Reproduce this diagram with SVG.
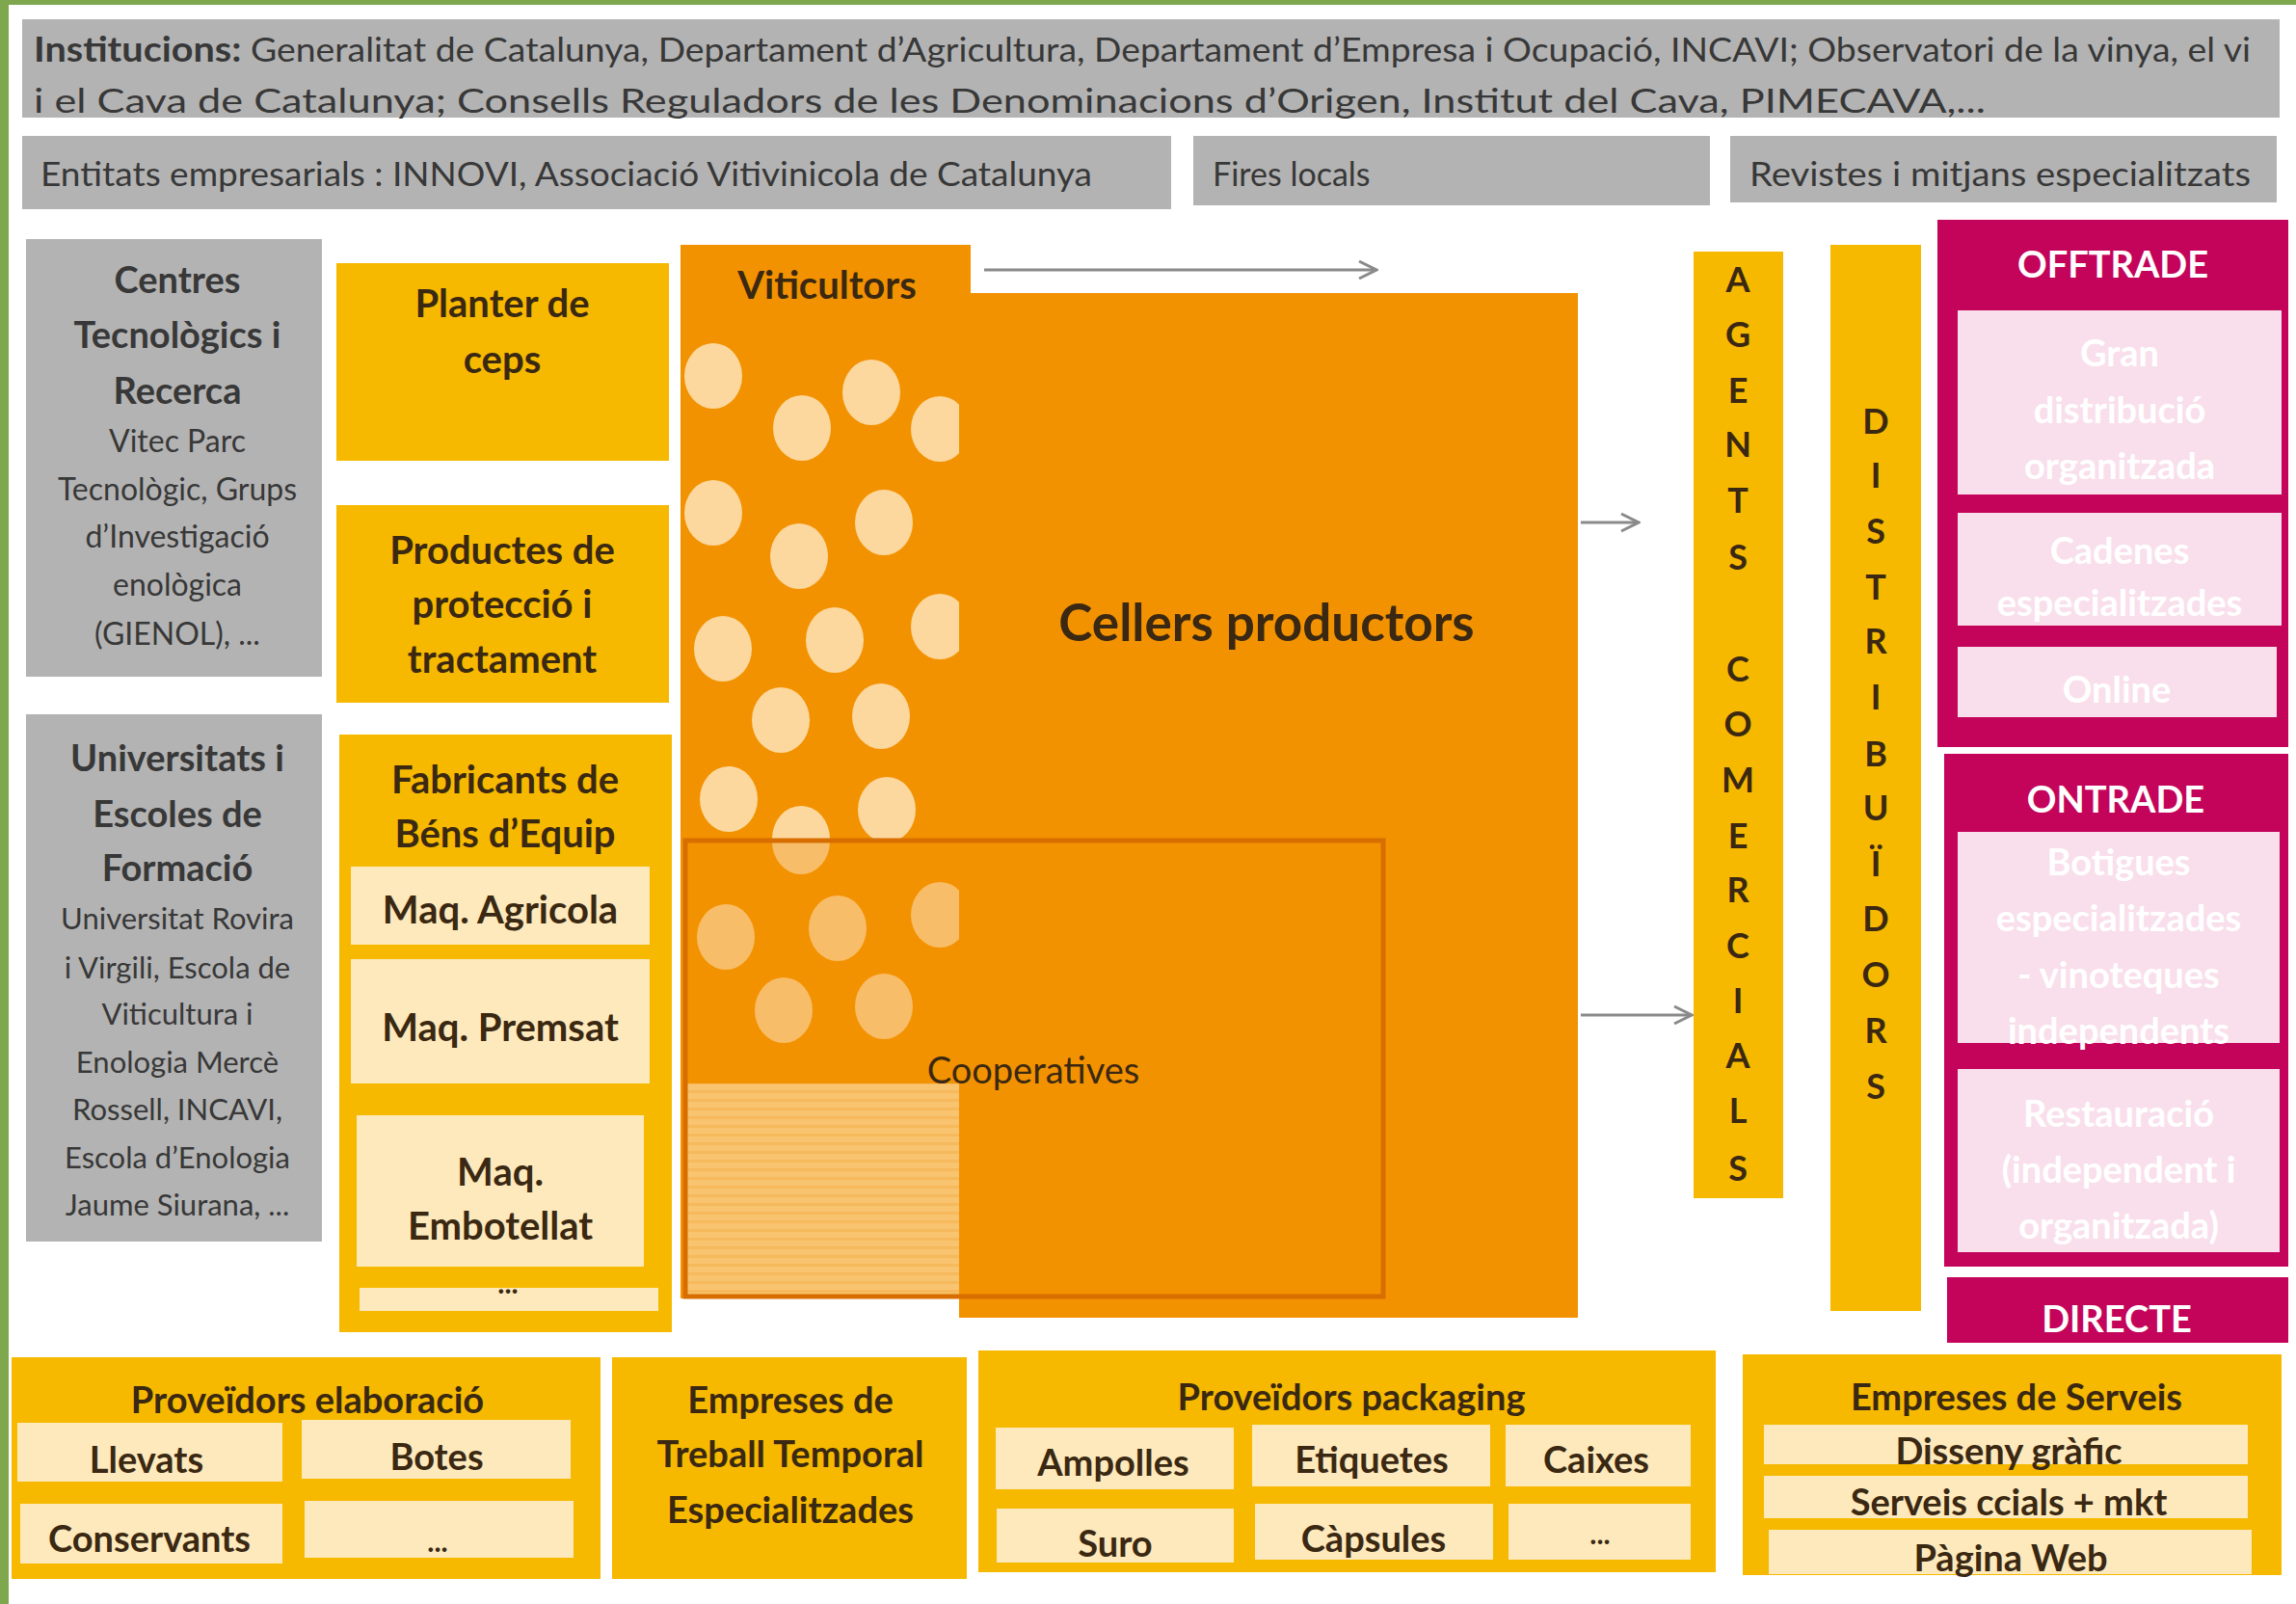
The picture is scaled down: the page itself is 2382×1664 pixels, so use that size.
<svg xmlns="http://www.w3.org/2000/svg" width="2382" height="1664" viewBox="0 0 2382 1664">
<style>
text{font-family:Lato,"Liberation Sans",sans-serif;}
.grey{fill:#b3b3b3;}
.yel{fill:#f6b900;}
.pale{fill:#fde9bb;}
.crim{fill:#c4045a;}
.pink{fill:#f9dfeb;}
.gt{fill:#383838;}
.dt{fill:#3a2812;}
.wt{fill:#ffffff;}
.b{font-weight:bold;}
.c{text-anchor:middle;dominant-baseline:central;}
.l{dominant-baseline:central;}
.conn{stroke:#8a8a8a;stroke-width:3;fill:none;marker-end:url(#arr);}
</style>
<defs>
<marker id="arr" markerUnits="userSpaceOnUse" markerWidth="26" markerHeight="26" viewBox="0 0 26 26" refX="24" refY="13" orient="auto">
<path d="M6,4 L24,13 L6,22" stroke="#8a8a8a" stroke-width="3" fill="none"/>
</marker>
<pattern id="hatch" patternUnits="userSpaceOnUse" width="10" height="9">
<rect width="10" height="9" fill="#f9c46f"/>
<rect y="6" width="10" height="3" fill="#f6b95c"/>
</pattern>
<clipPath id="colclip"><rect x="706" y="254" width="289" height="1093"/></clipPath>
</defs>
<rect width="2382" height="1664" fill="#ffffff"/>
<rect x="0" y="0" width="2382" height="5" fill="#7ea74e"/>
<rect x="0" y="0" width="9" height="1664" fill="#7ea74e"/>

<g id="institucions">
<rect class="grey" x="23" y="20" width="2342" height="102"/>
<text class="gt l" x="35" y="50" font-size="34" textLength="2300" lengthAdjust="spacingAndGlyphs"><tspan class="b" font-size="36">Institucions:</tspan> Generalitat de Catalunya, Departament d’Agricultura, Departament d’Empresa i Ocupació, INCAVI; Observatori de la vinya, el vi</text>
<text class="gt l" x="35" y="103" font-size="34" textLength="2025" lengthAdjust="spacingAndGlyphs">i el Cava de Catalunya;  Consells Reguladors de les Denominacions d’Origen, Institut del Cava, PIMECAVA,...</text>
</g>

<g id="entitats">
<rect class="grey" x="23" y="141" width="1192" height="76"/>
<text class="gt l" x="42" y="179" font-size="34" textLength="1091" lengthAdjust="spacingAndGlyphs">Entitats empresarials : INNOVI, Associació Vitivinicola de Catalunya</text>
</g>
<g id="fires">
<rect class="grey" x="1238" y="141" width="536" height="72"/>
<text class="gt l" x="1258" y="179" font-size="34">Fires locals</text>
</g>
<g id="revistes">
<rect class="grey" x="1795" y="141" width="567" height="69"/>
<text class="gt l" x="1815" y="179" font-size="34" textLength="520" lengthAdjust="spacingAndGlyphs">Revistes i mitjans especialitzats</text>
</g>

<g id="centres">
<rect class="grey" x="27" y="248" width="307" height="454"/>
<text class="gt c b" font-size="38" x="184" y="289">Centres</text>
<text class="gt c b" font-size="38" x="184" y="346">Tecnològics i</text>
<text class="gt c b" font-size="38" x="184" y="404">Recerca</text>
<text class="gt c" font-size="32" x="184" y="456">Vitec Parc</text>
<text class="gt c" font-size="32" x="184" y="506">Tecnològic, Grups</text>
<text class="gt c" font-size="32" x="184" y="555">d’Investigació</text>
<text class="gt c" font-size="32" x="184" y="605">enològica</text>
<text class="gt c" font-size="32" x="184" y="656">(GIENOL), ...</text>
</g>

<g id="universitats">
<rect class="grey" x="27" y="741" width="307" height="547"/>
<text class="gt c b" font-size="38" x="184" y="785">Universitats i</text>
<text class="gt c b" font-size="38" x="184" y="843">Escoles de</text>
<text class="gt c b" font-size="38" x="184" y="899">Formació</text>
<text class="gt c" font-size="31" x="184" y="952">Universitat Rovira</text>
<text class="gt c" font-size="31" x="184" y="1003">i Virgili, Escola de</text>
<text class="gt c" font-size="31" x="184" y="1051">Viticultura i</text>
<text class="gt c" font-size="31" x="184" y="1101">Enologia Mercè</text>
<text class="gt c" font-size="31" x="184" y="1150">Rossell, INCAVI,</text>
<text class="gt c" font-size="31" x="184" y="1200">Escola d’Enologia</text>
<text class="gt c" font-size="31" x="184" y="1249">Jaume Siurana, ...</text>
</g>

<g id="planter">
<rect class="yel" x="349" y="273" width="345" height="205"/>
<text class="dt c b" font-size="40" x="521" y="314">Planter de</text>
<text class="dt c b" font-size="40" x="521" y="372">ceps</text>
</g>

<g id="productes">
<rect class="yel" x="349" y="524" width="345" height="205"/>
<text class="dt c b" font-size="40" x="521" y="570">Productes de</text>
<text class="dt c b" font-size="40" x="521" y="626">protecció i</text>
<text class="dt c b" font-size="40" x="521" y="683">tractament</text>
</g>

<g id="fabricants">
<rect class="yel" x="352" y="762" width="345" height="620"/>
<text class="dt c b" font-size="40" x="524" y="808">Fabricants de</text>
<text class="dt c b" font-size="40" x="524" y="864">Béns d’Equip</text>
<rect class="pale" x="364" y="899" width="310" height="81"/>
<text class="dt c b" font-size="40" x="519" y="943">Maq. Agricola</text>
<rect class="pale" x="364" y="995" width="310" height="129"/>
<text class="dt c b" font-size="40" x="519" y="1065">Maq. Premsat</text>
<rect class="pale" x="370" y="1157" width="298" height="157"/>
<text class="dt c b" font-size="40" x="519" y="1215">Maq.</text>
<text class="dt c b" font-size="40" x="519" y="1271">Embotellat</text>
<rect class="pale" x="373" y="1336" width="310" height="24"/>
<text class="dt c b" font-size="30" x="527" y="1330">...</text>
</g>

<g id="cellers">
<polygon fill="#f39200" points="706,254 1007,254 1007,304 1637,304 1637,1367 995,1367 995,1347 706,1347"/>
<rect fill="url(#hatch)" x="709" y="1124" width="286" height="223"/>
<g clip-path="url(#colclip)" fill="#fcd89f">
<ellipse cx="740" cy="390" rx="30" ry="34"/>
<ellipse cx="832" cy="444" rx="30" ry="34"/>
<ellipse cx="904" cy="407" rx="30" ry="34"/>
<ellipse cx="975" cy="445" rx="30" ry="34"/>
<ellipse cx="740" cy="532" rx="30" ry="34"/>
<ellipse cx="829" cy="577" rx="30" ry="34"/>
<ellipse cx="917" cy="542" rx="30" ry="34"/>
<ellipse cx="975" cy="650" rx="30" ry="34"/>
<ellipse cx="750" cy="673" rx="30" ry="34"/>
<ellipse cx="866" cy="664" rx="30" ry="34"/>
<ellipse cx="810" cy="747" rx="30" ry="34"/>
<ellipse cx="914" cy="743" rx="30" ry="34"/>
<ellipse cx="756" cy="829" rx="30" ry="34"/>
<ellipse cx="920" cy="840" rx="30" ry="34"/>
</g>
<g clip-path="url(#colclip)" fill="#f8bd68">
<ellipse cx="831" cy="873" rx="30" ry="34"/>
<ellipse cx="753" cy="972" rx="30" ry="34"/>
<ellipse cx="869" cy="963" rx="30" ry="34"/>
<ellipse cx="975" cy="949" rx="30" ry="34"/>
<ellipse cx="813" cy="1048" rx="30" ry="34"/>
<ellipse cx="917" cy="1044" rx="30" ry="34"/>
</g>
<path d="M801,870 A30,34 0 0 1 861,870 Z" fill="#fcd89f"/>
<text class="dt c b" font-size="40" x="858" y="295">Viticultors</text>
<text class="dt c b" font-size="53" x="1314" y="644">Cellers productors</text>
</g>

<g id="cooperatives">
<rect x="711" y="872" width="724" height="473" fill="none" stroke="#d86e00" stroke-width="5"/>
<text class="dt c" font-size="38" x="1072" y="1109">Cooperatives</text>
</g>

<g id="agents">
<rect class="yel" x="1757" y="261" width="93" height="982"/>
<g class="dt c b" font-size="36">
<text x="1803" y="289">A</text>
<text x="1803" y="346">G</text>
<text x="1803" y="404">E</text>
<text x="1803" y="460">N</text>
<text x="1803" y="518">T</text>
<text x="1803" y="577">S</text>
<text x="1803" y="693">C</text>
<text x="1803" y="750">O</text>
<text x="1803" y="808">M</text>
<text x="1803" y="866">E</text>
<text x="1803" y="922">R</text>
<text x="1803" y="980">C</text>
<text x="1803" y="1037">I</text>
<text x="1803" y="1094">A</text>
<text x="1803" y="1151">L</text>
<text x="1803" y="1211">S</text>
</g>
</g>

<g id="distribuidors">
<rect class="yel" x="1899" y="254" width="94" height="1106"/>
<g class="dt c b" font-size="36">
<text x="1946" y="436">D</text>
<text x="1946" y="492">I</text>
<text x="1946" y="550">S</text>
<text x="1946" y="608">T</text>
<text x="1946" y="664">R</text>
<text x="1946" y="722">I</text>
<text x="1946" y="781">B</text>
<text x="1946" y="837">U</text>
<text x="1946" y="895">Ï</text>
<text x="1946" y="952">D</text>
<text x="1946" y="1010">O</text>
<text x="1946" y="1068">R</text>
<text x="1946" y="1126">S</text>
</g>
</g>

<g id="offtrade">
<rect class="crim" x="2010" y="228" width="364" height="547"/>
<text class="wt c b" font-size="38" x="2192" y="273">OFFTRADE</text>
<rect class="pink" x="2031" y="322" width="336" height="191"/>
<text class="wt c b" font-size="38" x="2199" y="365">Gran</text>
<text class="wt c b" font-size="38" x="2199" y="424">distribució</text>
<text class="wt c b" font-size="38" x="2199" y="482">organitzada</text>
<rect class="pink" x="2031" y="532" width="336" height="117"/>
<text class="wt c b" font-size="38" x="2199" y="570">Cadenes</text>
<text class="wt c b" font-size="38" x="2199" y="624">especialitzades</text>
<rect class="pink" x="2031" y="671" width="331" height="73"/>
<text class="wt c b" font-size="38" x="2196" y="714">Online</text>
</g>

<g id="ontrade">
<rect class="crim" x="2017" y="782" width="357" height="532"/>
<text class="wt c b" font-size="38" x="2195" y="828">ONTRADE</text>
<rect class="pink" x="2031" y="863" width="334" height="219"/>
<text class="wt c b" font-size="38" x="2198" y="893">Botigues</text>
<text class="wt c b" font-size="38" x="2198" y="951">especialitzades</text>
<text class="wt c b" font-size="38" x="2198" y="1010">- vinoteques</text>
<text class="wt c b" font-size="38" x="2198" y="1068">independents</text>
<rect class="pink" x="2031" y="1109" width="334" height="190"/>
<text class="wt c b" font-size="38" x="2198" y="1154">Restauració</text>
<text class="wt c b" font-size="38" x="2198" y="1212">(independent i</text>
<text class="wt c b" font-size="38" x="2198" y="1270">organitzada)</text>
</g>

<g id="directe">
<rect class="crim" x="2020" y="1325" width="354" height="68"/>
<text class="wt c b" font-size="38" x="2196" y="1367">DIRECTE</text>
</g>

<g id="proveidors-elaboracio">
<rect class="yel" x="12" y="1408" width="611" height="230"/>
<text class="dt c b" font-size="38" x="319" y="1451">Proveïdors elaboració</text>
<rect class="pale" x="18" y="1476" width="275" height="61"/>
<text class="dt c b" font-size="38" x="152" y="1513">Llevats</text>
<rect class="pale" x="313" y="1473" width="279" height="61"/>
<text class="dt c b" font-size="38" x="453" y="1510">Botes</text>
<rect class="pale" x="21" y="1560" width="272" height="62"/>
<text class="dt c b" font-size="38" x="155" y="1595">Conservants</text>
<rect class="pale" x="316" y="1557" width="279" height="59"/>
<text class="dt c b" font-size="30" x="454" y="1598">...</text>
</g>

<g id="treball-temporal">
<rect class="yel" x="635" y="1408" width="368" height="230"/>
<text class="dt c b" font-size="38" x="820" y="1451">Empreses de</text>
<text class="dt c b" font-size="38" x="820" y="1507">Treball Temporal</text>
<text class="dt c b" font-size="38" x="820" y="1565">Especialitzades</text>
</g>

<g id="proveidors-packaging">
<rect class="yel" x="1015" y="1401" width="765" height="230"/>
<text class="dt c b" font-size="38" x="1402" y="1448">Proveïdors packaging</text>
<rect class="pale" x="1033" y="1481" width="247" height="64"/>
<text class="dt c b" font-size="38" x="1155" y="1516">Ampolles</text>
<rect class="pale" x="1299" y="1478" width="247" height="64"/>
<text class="dt c b" font-size="38" x="1423" y="1513">Etiquetes</text>
<rect class="pale" x="1562" y="1478" width="192" height="64"/>
<text class="dt c b" font-size="38" x="1656" y="1513">Caixes</text>
<rect class="pale" x="1034" y="1565" width="246" height="56"/>
<text class="dt c b" font-size="38" x="1157" y="1600">Suro</text>
<rect class="pale" x="1302" y="1560" width="247" height="58"/>
<text class="dt c b" font-size="38" x="1425" y="1595">Càpsules</text>
<rect class="pale" x="1565" y="1560" width="189" height="58"/>
<text class="dt c b" font-size="30" x="1660" y="1590">...</text>
</g>

<g id="empreses-serveis">
<rect class="yel" x="1808" y="1405" width="559" height="229"/>
<text class="dt c b" font-size="38" x="2092" y="1448">Empreses de Serveis</text>
<rect class="pale" x="1830" y="1478" width="502" height="41"/>
<text class="dt c b" font-size="38" x="2084" y="1504">Disseny gràfic</text>
<rect class="pale" x="1830" y="1531" width="502" height="44"/>
<text class="dt c b" font-size="38" x="2084" y="1557">Serveis ccials + mkt</text>
<rect class="pale" x="1835" y="1587" width="501" height="46"/>
<text class="dt c b" font-size="38" x="2086" y="1615">Pàgina Web</text>
</g>

<g id="connectors">
<line class="conn" x1="1021" y1="280" x2="1428" y2="280"/>
<line class="conn" x1="1640" y1="542" x2="1700" y2="542"/>
<line class="conn" x1="1640" y1="1053" x2="1755" y2="1053"/>
</g>
</svg>
